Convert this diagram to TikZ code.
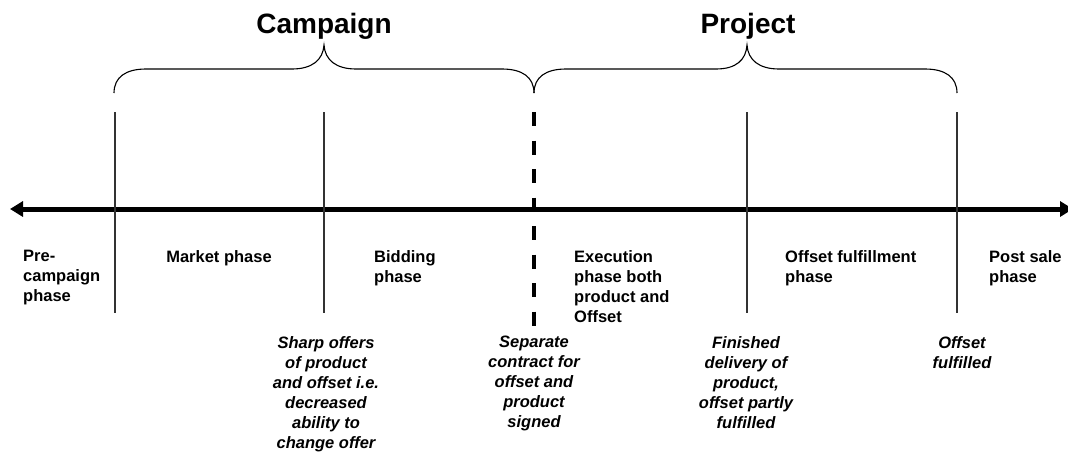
\documentclass[tikz,border=0pt]{standalone}
\usepackage{fontspec}
\setmainfont{Liberation Sans}
\usetikzlibrary{arrows.meta}
\begin{document}
\begin{tikzpicture}[x=1pt,y=-1pt,
  title/.style={font=\fontsize{28}{32}\selectfont\bfseries, anchor=base, inner sep=0},
  phase/.style={font=\fontsize{16.5}{20}\selectfont\bfseries, anchor=north west, align=left, inner sep=0},
  event/.style={font=\fontsize{16.5}{20}\selectfont\bfseries\itshape, anchor=north, align=center, inner sep=0},
  divider/.style={line width=1.3pt, black!80},
  brace/.style={line width=1.1pt, black},
  axis/.style={line width=5pt, {Triangle[length=13pt,width=15pt]}-{Triangle[length=13pt,width=15pt]}}
]
\useasboundingbox (0,0) rectangle (1068,456);

% coordinates
\coordinate (L) at (10,209);
\coordinate (R) at (1073,209);
\coordinate (d1t) at (115,112); \coordinate (d1b) at (115,313);
\coordinate (d2t) at (324,112); \coordinate (d2b) at (324,313);
\coordinate (dct) at (534,112); \coordinate (dcb) at (534,326);
\coordinate (d3t) at (747,112); \coordinate (d3b) at (747,313);
\coordinate (d4t) at (957,112); \coordinate (d4b) at (957,313);

% axis
\draw[axis] (L) -- (R);

% dividers
\draw[divider] (d1t) -- (d1b);
\draw[divider] (d2t) -- (d2b);
\draw[divider] (d3t) -- (d3b);
\draw[divider] (d4t) -- (d4b);
\draw[line width=3.5pt, dash pattern=on 14pt off 14.5pt] (dct) -- (dcb);

% braces
\draw[brace] (114,93) .. controls (114,77) and (126,69) .. (146,69)
  -- (292,69) .. controls (312,69) and (323,60) .. (324,45)
  .. controls (325,60) and (336,69) .. (356,69)
  -- (502,69) .. controls (522,69) and (534,77) .. (534,93);
\draw[brace] (534,93) .. controls (534,77) and (546,69) .. (566,69)
  -- (716,69) .. controls (736,69) and (746,60) .. (747,45)
  .. controls (748,60) and (759,69) .. (779,69)
  -- (925,69) .. controls (945,69) and (957,77) .. (957,93);

% titles
\node[title] (campaign) at (324,33) {Campaign};
\node[title] (project) at (748,33) {Project};

% phases
\node[phase] (pre) at (23,250) {Pre-\\campaign\\phase};
\node[phase, anchor=north] (market) at (219,250) {Market phase};
\node[phase] (bidding) at (374,250) {Bidding\\phase};
\node[phase] (exec) at (574,250) {Execution\\phase both\\product and\\Offset};
\node[phase] (offf) at (785,250) {Offset fulfillment\\phase};
\node[phase] (post) at (989,250) {Post sale\\phase};

% events
\node[event] (sharp) at (326,336) {Sharp offers\\of product\\and offset i.e.\\decreased\\ability to\\change offer};
\node[event] (sep) at (534,336) {Separate\\contract for\\offset and\\product\\signed};
\node[event] (fin) at (746,336) {Finished\\delivery of\\product,\\offset partly\\fulfilled};
\node[event] (ful) at (962,336) {Offset\\fulfilled};
\end{tikzpicture}
\end{document}
